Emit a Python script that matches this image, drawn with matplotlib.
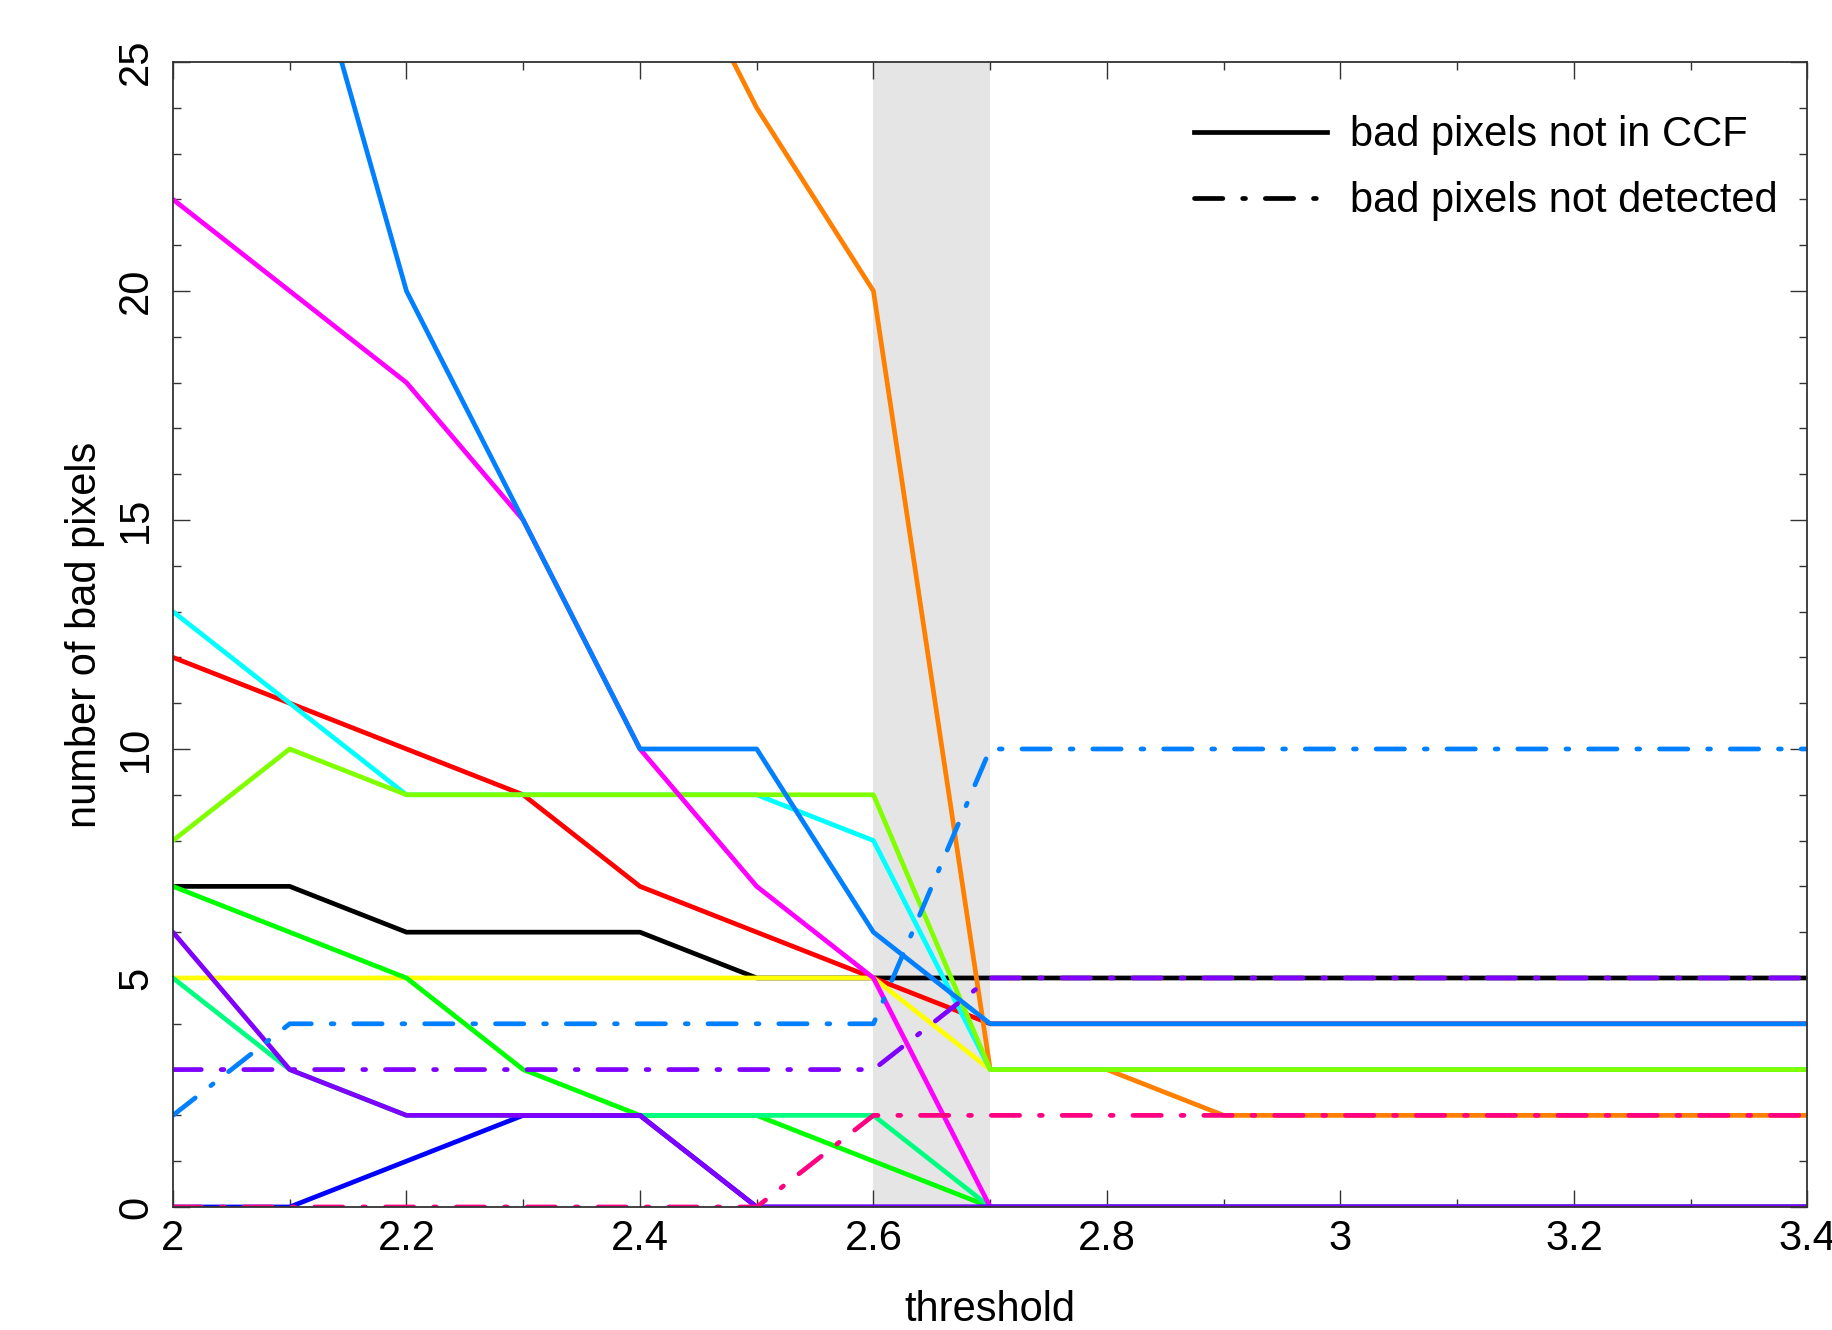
import numpy as np
import matplotlib
matplotlib.use("Agg")
import matplotlib.pyplot as plt
from matplotlib.lines import Line2D
from matplotlib.ticker import MultipleLocator, FuncFormatter

# === Data ===
threshold = [2.0, 2.1, 2.2, 2.3, 2.4, 2.5, 2.6, 2.7, 2.8, 2.9, 3.0, 3.1, 3.2, 3.3, 3.4]
nan = np.nan

# bad pixels not in CCF (solid)
black = [7, 7, 6, 6, 6, 5, 5, 5, 5, 5, 5, 5, 5, 5, 5]
red = [12, 11, 10, 9, 7, 6, 5, 4, 4, 4, 4, 4, 4, 4, 4]
orange = [nan, nan, nan, nan, 29, 24, 20, 3, 3, 2, 2, 2, 2, 2, 2]
yellow = [5, 5, 5, 5, 5, 5, 5, 3, 3, 3, 3, 3, 3, 3, 3]
cyan = [13, 11, 9, 9, 9, 9, 8, 3, 3, 3, 3, 3, 3, 3, 3]
chartreuse = [8, 10, 9, 9, 9, 9, 9, 3, 3, 3, 3, 3, 3, 3, 3]
green = [7, 6, 5, 3, 2, 2, 1, 0, 0, 0, 0, 0, 0, 0, 0]
springgreen = [5, 3, 2, 2, 2, 2, 2, 0, 0, 0, 0, 0, 0, 0, 0]
magenta = [22, 20, 18, 15, 10, 7, 5, 0, 0, 0, 0, 0, 0, 0, 0]
azure = [nan, 29, 20, 15, 10, 10, 6, 4, 4, 4, 4, 4, 4, 4, 4]
blue = [0, 0, 1, 2, 2, 0, 0, 0, 0, 0, 0, 0, 0, 0, 0]
violet = [6, 3, 2, 2, 2, 0, 0, 0, 0, 0, 0, 0, 0, 0, 0]

# bad pixels not detected (dash-dot)
azure_nd = [2, 4, 4, 4, 4, 4, 4, 10, 10, 10, 10, 10, 10, 10, 10]
violet_nd = [3, 3, 3, 3, 3, 3, 3, 5, 5, 5, 5, 5, 5, 5, 5]
rose_nd = [0, 0, 0, 0, 0, 0, 2, 2, 2, 2, 2, 2, 2, 2, 2]

solid_series = [
    (black, "#000000"),
    (red, "#ff0000"),
    (orange, "#ff8000"),
    (yellow, "#ffff00"),
    (cyan, "#00ffff"),
    (chartreuse, "#80ff00"),
    (green, "#00ff00"),
    (springgreen, "#00ff80"),
    (magenta, "#ff00ff"),
    (azure, "#0080ff"),
    (blue, "#0000ff"),
    (violet, "#8000ff"),
]
dashdot_series = [
    (azure_nd, "#0080ff"),
    (violet_nd, "#8000ff"),
    (rose_nd, "#ff0080"),
]

plt.rcParams["font.family"] = ["Liberation Sans", "DejaVu Sans"]

fig = plt.figure(figsize=(18.32, 13.30), dpi=100)
ax = fig.add_axes([0.0944, 0.0925, 0.8922, 0.8609])

# shaded threshold window
ax.axvspan(2.6, 2.7, color="#e5e5e5", lw=0, zorder=0)

lw = 3.4
dd = (6.0, 4.2, 0.6, 4.2)

for vals, col in solid_series:
    ax.plot(threshold, vals, color=col, lw=lw, solid_capstyle="round")
for vals, col in dashdot_series:
    ax.plot(threshold, vals, color=col, lw=lw, dashes=dd, dash_capstyle="round")

ax.set_xlim(2.0, 3.4)
ax.set_ylim(0, 25)

ax.xaxis.set_major_locator(MultipleLocator(0.2))
ax.xaxis.set_minor_locator(MultipleLocator(0.1))
ax.yaxis.set_major_locator(MultipleLocator(5))
ax.yaxis.set_minor_locator(MultipleLocator(1))
ax.xaxis.set_major_formatter(FuncFormatter(lambda v, p: f"{v:g}"))

ax.tick_params(which="both", direction="in", top=True, right=True, width=1.0, color="#333333")
ax.tick_params(which="major", length=12)
ax.tick_params(which="minor", length=6)
ax.tick_params(axis="x", labelsize=30, pad=9)
ax.tick_params(axis="y", labelsize=30, pad=12, labelrotation=90)
for lab in ax.get_yticklabels():
    lab.set_va("center")

for s in ax.spines.values():
    s.set_linewidth(1.3)
    s.set_color("#333333")

ax.set_xlabel("threshold", fontsize=30, labelpad=22)
ax.set_ylabel("number of bad pixels", fontsize=30, labelpad=8)

handles = [
    Line2D([], [], color="black", lw=lw),
    Line2D([], [], color="black", lw=lw, dashes=dd, dash_capstyle="round"),
]
ax.legend(
    handles,
    ["bad pixels not in CCF", "bad pixels not detected"],
    loc="upper right",
    bbox_to_anchor=(0.992, 0.968),
    frameon=False,
    fontsize=30,
    handlelength=3.2,
    handletextpad=0.55,
    labelspacing=0.62,
    borderaxespad=0,
)

fig.savefig("out.png", dpi=100)
